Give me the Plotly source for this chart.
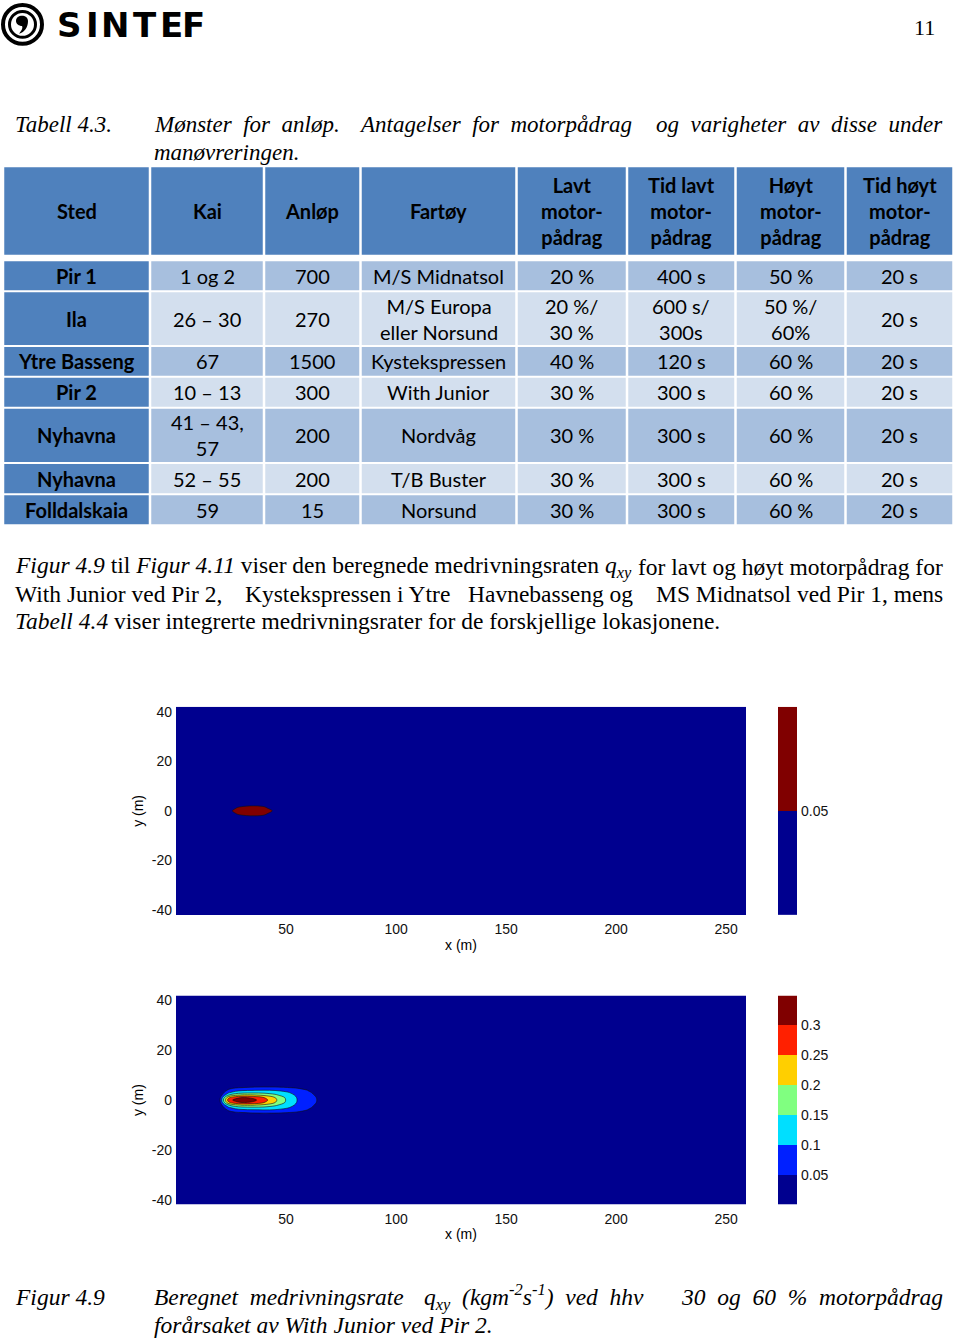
import plotly.graph_objects as go

# ---------------- DATA ----------------
# Tabell 4.3
TABLE_HEADER = ["Sted", "Kai", "Anløp", "Fartøy",
                "Lavt<br>motor-<br>pådrag", "Tid lavt<br>motor-<br>pådrag",
                "Høyt<br>motor-<br>pådrag", "Tid høyt<br>motor-<br>pådrag"]
STED = ["Pir 1", "Ila", "Ytre Basseng", "Pir 2", "Nyhavna", "Nyhavna", "Folldalskaia"]
KAI = ["1 og 2", "26 – 30", "67", "10 – 13", "41 – 43,<br>57", "52 – 55", "59"]
ANLOP = ["700", "270", "1500", "300", "200", "200", "15"]
FARTOY = ["M/S Midnatsol", "M/S Europa<br>eller Norsund", "Kystekspressen", "With Junior",
          "Nordvåg", "T/B Buster", "Norsund"]
LAVT = ["20 %", "20 %/<br>30 %", "40 %", "30 %", "30 %", "30 %", "30 %"]
TID_LAVT = ["400 s", "600 s/<br>300s", "120 s", "300 s", "300 s", "300 s", "300 s"]
HOYT = ["50 %", "50 %/<br>60%", "60 %", "60 %", "60 %", "60 %", "60 %"]
TID_HOYT = ["20 s", "20 s", "20 s", "20 s", "20 s", "20 s", "20 s"]

# Figur 4.9, upper panel (30 % motorpådrag): q_xy field, symmetric about y = 0
X1 = [0, 20, 24, 28, 32, 36, 40, 44, 48, 52, 259]
Y1_HALF = [0, 1, 2, 3, 4, 42]
Z1_HALF = [
    [0, 0, 0.03, 0.08, 0.09, 0.09, 0.08, 0.048, 0.02, 0, 0],
    [0, 0, 0.015, 0.06, 0.07, 0.07, 0.062, 0.035, 0.01, 0, 0],
    [0, 0, 0, 0.035, 0.048, 0.05, 0.045, 0.02, 0, 0, 0],
    [0, 0, 0, 0.015, 0.02, 0.02, 0.018, 0.005, 0, 0, 0],
    [0, 0, 0, 0, 0, 0, 0, 0, 0, 0, 0],
    [0, 0, 0, 0, 0, 0, 0, 0, 0, 0, 0],
]
LEVELS1 = [0.05]
CB1_BANDS = [0.025, 0.075]

# Figur 4.9, lower panel (60 % motorpådrag)
X2 = [0, 18, 20, 22, 24, 27, 30, 35, 40, 45, 50, 55, 60, 65, 70, 259]
Y2_HALF = [0, 1, 2, 3, 4, 5, 6, 8, 42]
Z2_HALF = [
    [0, 0, 0.05, 0.18, 0.28, 0.315, 0.33, 0.315, 0.27, 0.21, 0.148, 0.10, 0.07, 0.045, 0, 0],
    [0, 0, 0.04, 0.15, 0.24, 0.285, 0.30, 0.29, 0.25, 0.20, 0.143, 0.098, 0.068, 0.044, 0, 0],
    [0, 0, 0.02, 0.09, 0.15, 0.19, 0.205, 0.205, 0.19, 0.16, 0.125, 0.092, 0.063, 0.04, 0, 0],
    [0, 0, 0, 0.055, 0.095, 0.12, 0.135, 0.14, 0.138, 0.128, 0.108, 0.083, 0.057, 0.035, 0, 0],
    [0, 0, 0, 0.03, 0.06, 0.08, 0.09, 0.095, 0.098, 0.095, 0.085, 0.068, 0.048, 0.028, 0, 0],
    [0, 0, 0, 0.01, 0.03, 0.045, 0.05, 0.055, 0.057, 0.056, 0.052, 0.045, 0.03, 0.015, 0, 0],
    [0, 0, 0, 0, 0.01, 0.02, 0.025, 0.03, 0.03, 0.03, 0.028, 0.022, 0.015, 0.005, 0, 0],
    [0, 0, 0, 0, 0, 0, 0, 0, 0, 0, 0, 0, 0, 0, 0, 0],
    [0, 0, 0, 0, 0, 0, 0, 0, 0, 0, 0, 0, 0, 0, 0, 0],
]
LEVELS2 = [0.05, 0.10, 0.15, 0.20, 0.25, 0.30]
CB2_BANDS = [0.025, 0.075, 0.125, 0.175, 0.225, 0.275, 0.325]

X_TICKS = [50, 100, 150, 200, 250]
Y_TICKS = [-40, -20, 0, 20, 40]
Y_TICKTEXT = ["-40", "-20", "0", "20", "40"]

# ---------------- STYLE ----------------
W, H = 960, 1340
JET1 = ["#00008F", "#800000"]
JET2 = ["#00008F", "#0020FF", "#00DFFF", "#80FF80", "#FFCF00", "#FF2000", "#800000"]
HEAD_BLUE = "#4F81BD"
BAND_A = "#A7BFDE"
BAND_B = "#D3DFEE"
SERIF = "Liberation Serif"
SANS = "Liberation Sans"
TABLE_FONT = "Lato"


def px(x):
    return x / W


def py(y):
    return 1 - y / H


def mirror(yh, zh):
    ys = [-v for v in yh[:0:-1]] + list(yh)
    zs = zh[:0:-1] + zh
    return ys, zs


Y1, Z1 = mirror(Y1_HALF, Z1_HALF)
Y2, Z2 = mirror(Y2_HALF, Z2_HALF)


def step_scale(colors):
    n = len(colors)
    sc = []
    for i, c in enumerate(colors):
        sc.append([i / n, c])
        sc.append([(i + 1) / n, c])
    return sc


fig = go.Figure()

# upper contour
fig.add_trace(go.Contour(
    x=X1, y=Y1, z=Z1, xaxis="x", yaxis="y",
    autocontour=False,
    contours=dict(start=LEVELS1[0], end=LEVELS1[-1], size=0.05, coloring="fill"),
    colorscale=[[i / (len(JET1) - 1), c] for i, c in enumerate(JET1)],
    line=dict(color="#101010", width=0.6),
    showscale=False, hoverinfo="skip"))
fig.add_trace(go.Heatmap(
    x=[0], y=CB1_BANDS, z=[[v] for v in CB1_BANDS], xaxis="x2", yaxis="y2",
    colorscale=step_scale(JET1), zmin=0, zmax=0.1, showscale=False, hoverinfo="skip"))

# lower contour
fig.add_trace(go.Contour(
    x=X2, y=Y2, z=Z2, xaxis="x3", yaxis="y3",
    autocontour=False,
    contours=dict(start=LEVELS2[0], end=LEVELS2[-1], size=0.05, coloring="fill"),
    colorscale=[[i / (len(JET2) - 1), c] for i, c in enumerate(JET2)],
    line=dict(color="#101010", width=0.6),
    showscale=False, hoverinfo="skip"))
fig.add_trace(go.Heatmap(
    x=[0], y=CB2_BANDS, z=[[v] for v in CB2_BANDS], xaxis="x4", yaxis="y4",
    colorscale=step_scale(JET2), zmin=0, zmax=0.35, showscale=False, hoverinfo="skip"))

tickfont = dict(family=SANS, size=14, color="#111")


def xax(top, bottom, anchor):
    return dict(domain=[px(176), px(746)], range=[0, 259], tickvals=X_TICKS,
                showgrid=False, zeroline=False, ticks="", tickfont=tickfont,
                ticklabelstandoff=4,
                anchor=anchor, showline=False, fixedrange=True)


def yax(top, bottom, anchor):
    return dict(domain=[py(bottom), py(top)], range=[-42, 42], tickvals=Y_TICKS,
                ticktext=Y_TICKTEXT, showgrid=False, zeroline=False, ticks="",
                ticklabelstandoff=3,
                tickfont=tickfont, anchor=anchor, showline=False, fixedrange=True)


def cbx(anchor):
    return dict(domain=[px(778), px(797)], range=[-0.5, 0.5], visible=False,
                anchor=anchor, fixedrange=True)


def cby(top, bottom, rng, vals, anchor):
    return dict(domain=[py(bottom), py(top)], range=rng, tickvals=vals,
                ticktext=[f"{v:g}" for v in vals], side="right", showgrid=False,
                zeroline=False, ticks="", tickfont=tickfont, anchor=anchor,
                ticklabelstandoff=3, fixedrange=True)


T1, B1 = 707, 916
T2, B2 = 997, 1207

fig.update_layout(
    width=W, height=H, margin=dict(l=0, r=0, t=0, b=0),
    paper_bgcolor="white", plot_bgcolor="rgba(0,0,0,0)", showlegend=False,
    xaxis=xax(T1, B1, "y"), yaxis=yax(T1, B1, "x"),
    xaxis2=cbx("y2"), yaxis2=cby(T1, B1, [0, 0.1], LEVELS1, "x2"),
    xaxis3=xax(T2, B2, "y3"), yaxis3=yax(T2, B2, "x3"),
    xaxis4=cbx("y4"), yaxis4=cby(T2, B2, [0, 0.35], LEVELS2, "x4"),
)

shapes = []
anns = []


def rect(x0, y0, x1, y1, color):
    shapes.append(dict(type="rect", xref="paper", yref="paper", x0=px(x0), x1=px(x1),
                       y0=py(y1), y1=py(y0), fillcolor=color, line=dict(width=0),
                       layer="below"))


def text(x, y, s, size, family, xanchor="center", yanchor="middle", angle=0, color="#000"):
    anns.append(dict(x=px(x), y=py(y), xref="paper", yref="paper", text=s,
                     showarrow=False, xanchor=xanchor, yanchor=yanchor, borderpad=0,
                     textangle=angle, font=dict(size=size, family=family, color=color)))


# ---- logo ----
shapes.append(dict(type="circle", xref="paper", yref="paper", x0=px(3), x1=px(42),
                   y0=py(41), y1=py(2), line=dict(color="black", width=4)))
shapes.append(dict(type="circle", xref="paper", yref="paper", x0=px(9.5), x1=px(35.5),
                   y0=py(34.5), y1=py(8.5), line=dict(color="black", width=3)))


def pp(x, y):
    return f"{px(x):.5f},{py(y):.5f}"


comma = ("M " + pp(16, 18) + " C " + pp(16, 11) + " " + pp(28, 11) + " " + pp(28, 18)
         + " C " + pp(28, 24) + " " + pp(25, 29) + " " + pp(19, 31)
         + " C " + pp(22, 27) + " " + pp(23, 25) + " " + pp(22, 23)
         + " C " + pp(19, 23) + " " + pp(16, 21) + " " + pp(16, 18) + " Z")
shapes.append(dict(type="path", xref="paper", yref="paper", path=comma,
                   fillcolor="black", line=dict(width=0)))
for ch, cx in zip("SINTEF", [69.5, 92, 115, 144.5, 171, 193.5]):
    text(cx, 22, f"<b>{ch}</b>", 34, "DejaVu Sans")

text(936, 25, "11", 22, SERIF, xanchor="right")

# ---- title ----
text(14, 122, "<i>Tabell 4.3.</i>", 23, SERIF, xanchor="left")
text(153, 122, "<i>Mønster  for  anløp.</i>", 23, SERIF, xanchor="left")
text(495, 122, "<i>Antagelser  for  motorpådrag</i>", 23, SERIF)
text(944, 122, "<i>og  varigheter  av  disse  under</i>", 23, SERIF, xanchor="right")
text(153, 150, "<i>manøvreringen.</i>", 23, SERIF, xanchor="left")

# ---- table ----
COL_EDGES = [3, 150, 264, 360.5, 516.5, 627, 735.5, 845.5, 953.5]
HEAD_TOP, HEAD_BOT = 165, 253
ROW_EDGES = [258.5, 289.5, 344.5, 375.5, 406.5, 462, 493.5, 524.5]

columns = [STED, KAI, ANLOP, FARTOY, LAVT, TID_LAVT, HOYT, TID_HOYT]
for j, head in enumerate(TABLE_HEADER):
    x0, x1 = COL_EDGES[j] + 1.25, COL_EDGES[j + 1] - 1.25
    rect(x0, HEAD_TOP, x1, HEAD_BOT, HEAD_BLUE)
    text((x0 + x1) / 2, (HEAD_TOP + HEAD_BOT) / 2, f"<b>{head}</b>", 20, TABLE_FONT)
    for i, val in enumerate(columns[j]):
        y0, y1 = ROW_EDGES[i] + 1, ROW_EDGES[i + 1] - 1
        if j == 0:
            fill = HEAD_BLUE
            s = f"<b>{val}</b>"
        else:
            fill = BAND_A if i % 2 == 0 else BAND_B
            s = val
        rect(x0, y0, x1, y1, fill)
        text((x0 + x1) / 2, (y0 + y1) / 2, s, 20, TABLE_FONT)

# ---- paragraph ----
PS = 23.5
text(14, 567, "<i>Figur 4.9</i> til <i>Figur 4.11</i> viser den beregnede medrivningsraten <i>q<sub>xy</sub></i>",
     PS, SERIF, xanchor="left")
text(944, 567, "for lavt og høyt motorpådrag for", PS, SERIF, xanchor="right")
text(14, 594, "With Junior ved Pir 2,", PS, SERIF, xanchor="left")
text(244, 594, "Kystekspressen i Ytre", PS, SERIF, xanchor="left")
text(634, 594, "Havnebasseng og", PS, SERIF, xanchor="right")
text(944, 594, "MS Midnatsol ved Pir 1, mens", PS, SERIF, xanchor="right")
text(14, 621, "<i>Tabell 4.4</i> viser integrerte medrivningsrater for de forskjellige lokasjonene.",
     PS, SERIF, xanchor="left")

# ---- axis titles ----
for top, bot, xlab_y in [(T1, B1, 946), (T2, B2, 1237)]:
    text(138, (top + bot) / 2, "y (m)", 14, SANS, angle=-90)
    text(461, xlab_y, "x (m)", 14, SANS)

# ---- caption ----
CS = 23.5
text(14, 1300, "<i>Figur 4.9</i>", CS, SERIF, xanchor="left")
text(153, 1300, "<i>Beregnet  medrivningsrate</i>", CS, SERIF, xanchor="left")
text(423, 1300, "<i>q<sub>xy</sub>  (kgm<sup>-2</sup>s<sup>-1</sup>)  ved  hhv</i>", CS, SERIF, xanchor="left")
text(944, 1300, "<i>30  og  60  %  motorpådrag</i>", CS, SERIF, xanchor="right")
text(153, 1328, "<i>forårsaket av With Junior ved Pir 2.</i>", CS, SERIF, xanchor="left")

fig.update_layout(shapes=shapes, annotations=anns)
fig.write_html("out.html")
